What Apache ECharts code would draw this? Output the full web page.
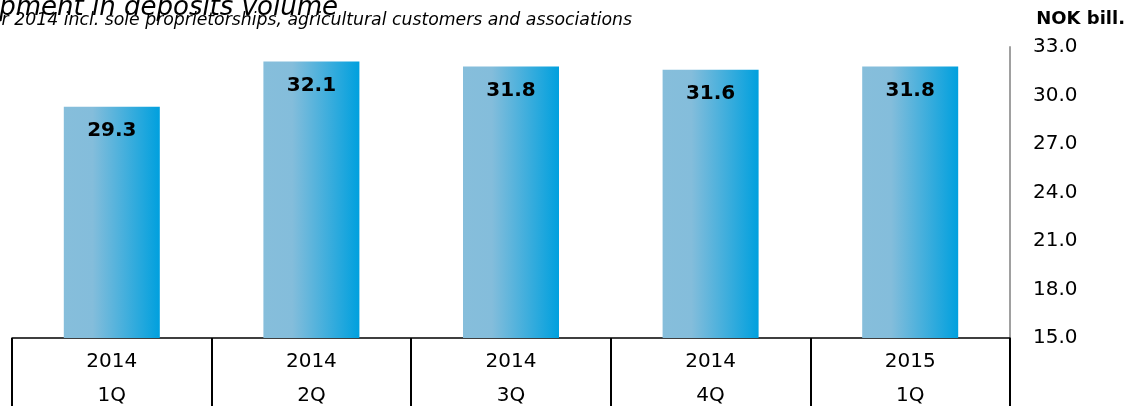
<!DOCTYPE html>
<html lang="en">
<head>
  <meta charset="UTF-8">
  <title>Deposits volume</title>
  <style>
    html, body { margin: 0; padding: 0; background: #fff; }
    #chart { width: 1127px; height: 406px; }
  </style>
</head>
<body>
  <div id="chart"></div>
  <script src="https://cdn.jsdelivr.net/npm/echarts@6/dist/echarts.min.js"></script>
  <script>
    // data
    const years = ['2014', '2014', '2014', '2014', '2015']
    const quarters = ['1Q', '2Q', '3Q', '4Q', '1Q']
    const deposits = [29.3, 32.1, 31.8, 31.6, 31.8]
    const yTicks = { min: 15, max: 33, step: 3 }

    const categories = years.map((y, i) => y + '\n' + quarters[i])
    const font = 'DejaVu Sans, Verdana, sans-serif'

    const myChart = echarts.init(document.getElementById('chart'))

    const option = {
      animation: false,
      backgroundColor: '#fff',
      textStyle: { fontFamily: font },
      grid: { left: 12, right: 117, top: 47, bottom: 68, outerBoundsMode: 'none', containLabel: false },
      graphic: [
        {
          type: 'text', right: 1127 - 338, top: -5,
          style: { text: 'Development in deposits volume', font: 'italic 26px ' + font, fill: '#000' }
        },
        {
          type: 'text', right: 1127 - 632, top: 12,
          style: { text: 'Figures for 2014 incl. sole proprietorships, agricultural customers and associations', font: 'italic 17.3px ' + font, fill: '#000' }
        },
        {
          type: 'text', right: 2, top: 10,
          style: { text: 'NOK bill.', font: 'bold 18px ' + font, fill: '#000' }
        }
      ],
      xAxis: {
        type: 'category',
        data: categories,
        axisLine: { lineStyle: { color: '#000', width: 1.5 } },
        axisTick: { show: true, length: 70, lineStyle: { color: '#000', width: 2 } },
        axisLabel: { color: '#000', fontSize: 20, lineHeight: 34, margin: 7, fontFamily: font }
      },
      yAxis: {
        type: 'value',
        position: 'right',
        min: yTicks.min,
        max: yTicks.max,
        interval: yTicks.step,
        splitLine: { show: false },
        axisTick: { show: false },
        axisLine: { show: true, lineStyle: { color: '#a0a0a0', width: 2 } },
        axisLabel: {
          color: '#000', fontSize: 20, margin: 23, fontFamily: font,
          formatter: v => v.toFixed(1)
        }
      },
      series: [
        {
          type: 'bar',
          data: deposits,
          barWidth: 96,
          itemStyle: {
            color: new echarts.graphic.LinearGradient(0, 0, 1, 0, [
              { offset: 0, color: '#86bedb' },
              { offset: 0.3, color: '#84bddb' },
              { offset: 1, color: '#00a0de' }
            ])
          },
          label: {
            show: true,
            position: 'insideTop',
            distance: 14,
            color: '#000',
            fontSize: 20,
            fontWeight: 'bold',
            fontFamily: font,
            formatter: p => p.value.toFixed(1)
          }
        }
      ]
    }

    myChart.setOption(option)
  </script>
</body>
</html>
